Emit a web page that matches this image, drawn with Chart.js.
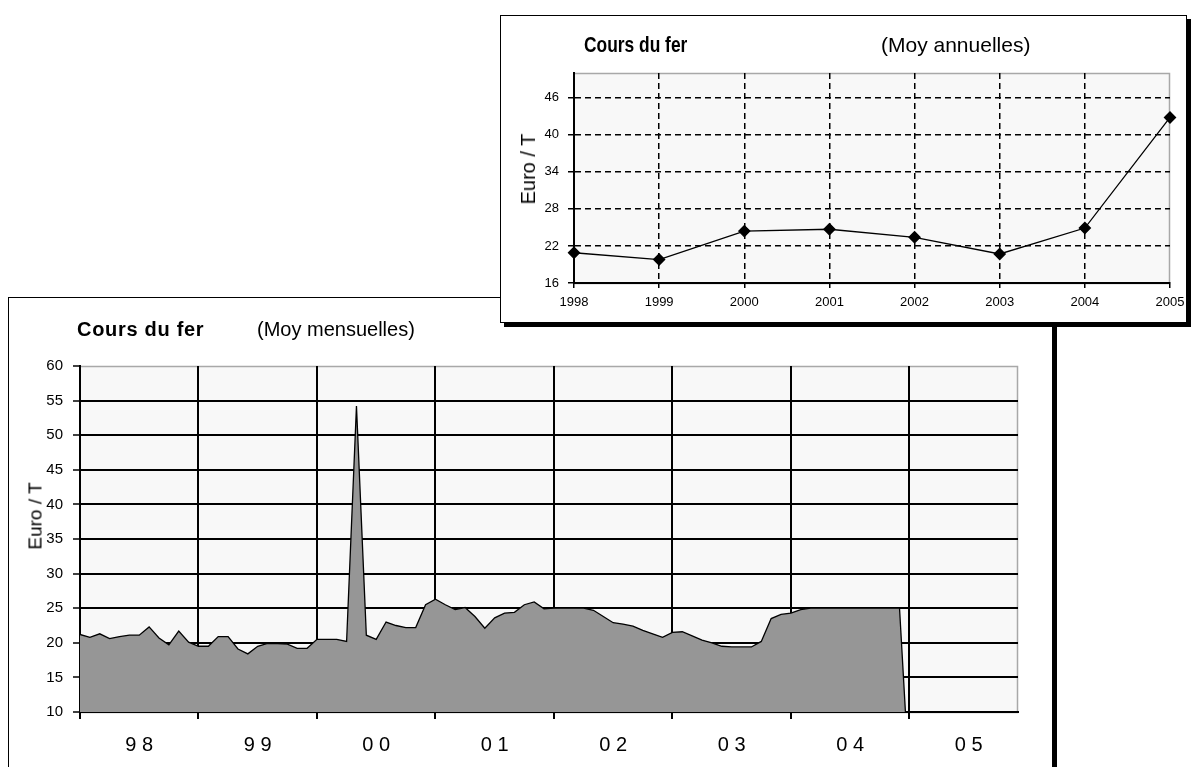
<!DOCTYPE html>
<html>
<head>
<meta charset="utf-8">
<script src="https://cdn.jsdelivr.net/npm/chart.js@4.4.1/dist/chart.umd.min.js"></script>
<style>
body { margin: 0; background: #fff; width: 1195px; height: 767px; overflow: hidden; position: relative; font-family: "Liberation Sans", Arial, sans-serif; }
.box { position: absolute; background: #fff; border: 1px solid #000; box-shadow: 4px 4px 0 #000; }
#boxMois { left: 8px; top: 297px; width: 1043px; height: 480px; z-index: 1; }
#boxAn { left: 500px; top: 15px; width: 685px; height: 306px; z-index: 2; }
.box canvas { position: absolute; left: 0; top: 0; }
.txt { position: absolute; white-space: nowrap; line-height: 1; color: #000; }
.rot { transform: translate(-50%, -50%) rotate(-90deg); }
.etroit { transform: scaleX(0.79); transform-origin: 0 0; }
</style>
</head>
<body>

<div class="box" id="boxMois">
  <canvas id="mensuel" width="1043" height="480"></canvas>
  <div class="txt" style="left:68px;top:21px;font-size:20px;font-weight:bold;letter-spacing:0.7px">Cours du fer</div>
  <div class="txt" style="left:248px;top:21px;font-size:20px">(Moy mensuelles)</div>
  <div class="txt rot" style="left:26px;top:218px;font-size:19px">Euro / T</div>
</div>

<div class="box" id="boxAn">
  <canvas id="annuel" width="685" height="306"></canvas>
  <div class="txt etroit" style="left:83px;top:18px;font-size:22px;font-weight:bold">Cours du fer</div>
  <div class="txt" style="left:380px;top:18px;font-size:21px">(Moy annuelles)</div>
  <div class="txt rot" style="left:27px;top:153px;font-size:20px">Euro / T</div>
</div>

<script>
// --- monthly chart data (Euro / T) ---
var anneesCourtes = ['9 8', '9 9', '0 0', '0 1', '0 2', '0 3', '0 4', '0 5'];
var moisParAn = 12;
var prix1998 = [21.2, 20.8, 21.3, 20.6, 20.9, 21.1, 21.1, 22.3, 20.7, 19.7, 21.7, 20.1];
var prix1999 = [19.5, 19.5, 20.9, 20.9, 19.1, 18.4, 19.5, 19.9, 19.9, 19.8, 19.2, 19.2];
var prix2000 = [20.5, 20.5, 20.5, 20.2, 54.2, 21.1, 20.5, 23.0, 22.5, 22.2, 22.2, 25.5];
var prix2001 = [26.3, 25.5, 24.8, 25.1, 23.8, 22.1, 23.6, 24.3, 24.4, 25.5, 25.9, 24.9];
var prix2002 = [25.0, 25.0, 25.0, 25.0, 24.7, 23.8, 22.9, 22.7, 22.4, 21.8, 21.3, 20.8];
var prix2003 = [21.5, 21.6, 21.0, 20.4, 20.0, 19.5, 19.4, 19.4, 19.4, 20.2, 23.5, 24.1];
var prix2004 = [24.3, 24.8, 25.0, 25.0, 25.0, 25.0, 25.0, 25.0, 25.0, 25.0, 25.0, 25.0];
var prix2005 = [0];
var graduationsMois = [10, 15, 20, 25, 30, 35, 40, 45, 50, 55, 60];

// --- annual chart data ---
var anneesLongues = ['1998', '1999', '2000', '2001', '2002', '2003', '2004', '2005'];
var moyennesAnnuelles = [20.9, 19.8, 24.4, 24.7, 23.4, 20.7, 24.9, 42.8];
var graduationsAn = [16, 22, 28, 34, 40, 46];

var police = '"Liberation Sans", Arial, sans-serif';

var prixMensuels = prix1998.concat(prix1999, prix2000, prix2001, prix2002, prix2003, prix2004, prix2005);
var etiquettesMois = [];
anneesCourtes.forEach(function(a) {
    for (var m = 0; m < moisParAn; m++) etiquettesMois.push(a);
});

// plot area background + light grey frame (Excel style)
var cadre = {
    id: 'cadre',
    beforeDraw: function(chart, args, opts) {
        var ctx = chart.ctx, a = chart.chartArea;
        ctx.save();
        ctx.fillStyle = opts.fond;
        ctx.fillRect(a.left, a.top, a.width, a.height);
        ctx.strokeStyle = opts.bord;
        ctx.lineWidth = 1.5;
        ctx.strokeRect(a.left, a.top + 0.5, a.width - 0.5, a.height);
        ctx.restore();
    }
};

// Monthly area chart
new Chart(document.getElementById('mensuel').getContext('2d'), {
    type: 'line',
    data: {
        labels: etiquettesMois,
        datasets: [{
            data: prixMensuels,
            borderColor: '#000',
            borderWidth: 1.3,
            backgroundColor: '#969696',
            fill: 'start',
            pointRadius: 0,
            tension: 0,
            clip: 0
        }]
    },
    options: {
        responsive: false,
        animation: false,
        events: [],
        layout: { padding: { left: 0, right: 34, top: 68, bottom: 0 } },
        plugins: {
            legend: { display: false },
            tooltip: { enabled: false },
            cadre: { fond: '#f8f8f8', bord: '#a8a8a8' }
        },
        scales: {
            x: {
                offset: false,
                grid: {
                    color: function(c) { return c.index > 0 && c.index % moisParAn === 0 ? '#000' : 'transparent'; },
                    lineWidth: 2,
                    tickColor: function(c) { return c.index % moisParAn === 0 ? '#000' : 'transparent'; },
                    tickLength: 7,
                    tickWidth: 2
                },
                border: { color: '#000', width: 2 },
                ticks: {
                    autoSkip: false,
                    maxRotation: 0,
                    padding: 14,
                    color: '#000',
                    font: { family: police, size: 20 },
                    callback: function(v, i) { return i % moisParAn === 6 ? etiquettesMois[i] : ''; }
                },
                afterFit: function(s) { s.height = 66; s.paddingLeft = 0; s.paddingRight = 0; }
            },
            y: {
                min: 10,
                max: 60,
                afterBuildTicks: function(s) { s.ticks = graduationsMois.map(function(v) { return { value: v }; }); },
                grid: {
                    color: function(c) { return (c.tick.value === 10 || c.tick.value === 60) ? 'transparent' : '#000'; },
                    lineWidth: 2,
                    tickColor: '#000',
                    tickLength: 7,
                    tickWidth: 1.5
                },
                border: { color: '#000', width: 2 },
                ticks: { padding: 10, color: '#000', font: { family: police, size: 15 } },
                afterFit: function(s) { s.width = 71; s.paddingTop = 0; s.paddingBottom = 0; }
            }
        }
    },
    plugins: [cadre]
});

// Annual line chart
new Chart(document.getElementById('annuel').getContext('2d'), {
    type: 'line',
    data: {
        labels: anneesLongues,
        datasets: [{
            data: moyennesAnnuelles,
            borderColor: '#000',
            borderWidth: 1.3,
            pointStyle: 'rectRot',
            pointRadius: 5.5,
            pointBackgroundColor: '#000',
            pointBorderColor: '#000',
            fill: false,
            tension: 0,
            clip: false
        }]
    },
    options: {
        responsive: false,
        animation: false,
        events: [],
        layout: { padding: { left: 0, right: 16, top: 57, bottom: 0 } },
        plugins: {
            legend: { display: false },
            tooltip: { enabled: false },
            cadre: { fond: '#f8f8f8', bord: '#a8a8a8' }
        },
        scales: {
            x: {
                offset: false,
                grid: {
                    color: function(c) { return c.index > 0 && c.index < anneesLongues.length - 1 ? '#000' : 'transparent'; },
                    lineWidth: 1.5,
                    tickColor: '#000',
                    tickLength: 5,
                    tickWidth: 1.5
                },
                border: { color: '#000', width: 2, dash: [6, 4] },
                ticks: { autoSkip: false, maxRotation: 0, padding: 7, color: '#000', font: { family: police, size: 13 } },
                afterFit: function(s) { s.height = 39; s.paddingLeft = 0; s.paddingRight = 0; }
            },
            y: {
                min: 16,
                max: 50,
                afterBuildTicks: function(s) { s.ticks = graduationsAn.map(function(v) { return { value: v }; }); },
                grid: {
                    color: function(c) { return c.tick.value === 16 ? 'transparent' : '#000'; },
                    lineWidth: 1.5,
                    tickColor: '#000',
                    tickLength: 6,
                    tickWidth: 1.5
                },
                border: { color: '#000', width: 2, dash: [6, 4] },
                ticks: { padding: 9, color: '#000', font: { family: police, size: 13 } },
                afterFit: function(s) { s.width = 73; s.paddingTop = 0; s.paddingBottom = 0; }
            }
        }
    },
    plugins: [cadre]
});
</script>
</body>
</html>
